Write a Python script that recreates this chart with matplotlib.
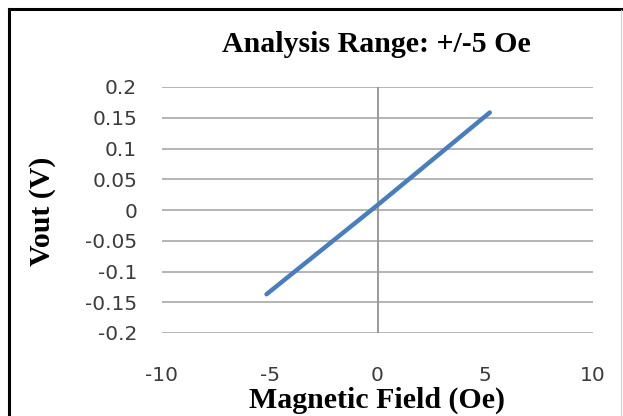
import matplotlib
matplotlib.use("Agg")
import matplotlib.pyplot as plt
from matplotlib.lines import Line2D

# Data
field_oe = [-5.15, 0.0, 5.21]
vout_v = [-0.137, 0.008, 0.1585]
x_ticks = [-10, -5, 0, 5, 10]
x_tick_labels = ["-10", "-5", "0", "5", "10"]
y_ticks = [-0.2, -0.15, -0.1, -0.05, 0, 0.05, 0.1, 0.15, 0.2]
y_tick_labels = ["-0.2", "-0.15", "-0.1", "-0.05", "0", "0.05", "0.1", "0.15", "0.2"]
title = "Analysis Range: +/-5 Oe"
x_label = "Magnetic Field (Oe)"
y_label = "Vout (V)"

W, H = 623, 416
fig = plt.figure(figsize=(W / 100, H / 100), dpi=100)
ax = fig.add_axes([162 / W, 1 - 333 / H, (593 - 162) / W, (333 - 87) / H])

ax.set_xlim(-10, 10)
ax.set_ylim(-0.2, 0.2)
for s in ax.spines.values():
    s.set_visible(False)

for yv in y_ticks:
    ax.axhline(yv, color="#b4b4b4", lw=1.4, zorder=1)
ax.axvline(0, color="#9a9a9a", lw=1.4, zorder=1)

ax.plot(field_oe, vout_v, color="#4a7ebb", lw=3.2, solid_capstyle="round", zorder=3)

tick_font = dict(family="DejaVu Sans", size=14.5, color="#3c3c3c")
ax.set_xticks(x_ticks)
ax.set_xticklabels(x_tick_labels, **tick_font)
ax.set_yticks(y_ticks)
ax.set_yticklabels(y_tick_labels, **tick_font)
ax.tick_params(axis="both", length=0)
ax.tick_params(axis="y", pad=18)
ax.tick_params(axis="x", pad=24)

serif = ["Liberation Serif", "DejaVu Serif"]
fig.text(376 / W, 1 - 52.5 / H, title, ha="center", va="baseline",
         family=serif, weight="bold", size=21.5)
fig.text(377 / W, 1 - 408 / H, x_label, ha="center", va="baseline",
         family=serif, weight="bold", size=21.5)
fig.text(42 / W, 1 - 211 / H, y_label, ha="center", va="center", rotation=90,
         family=serif, weight="bold", size=21.5)

# Chart border
fig.add_artist(Line2D([8.5 / W, 1.0], [1 - 8.5 / H, 1 - 8.5 / H], color="black", lw=2.2,
                      transform=fig.transFigure))
fig.add_artist(Line2D([8.5 / W, 8.5 / W], [0.0, 1 - 8.5 / H], color="black", lw=2.2,
                      transform=fig.transFigure))
fig.add_artist(Line2D([621 / W, 621 / W], [0.0, 1 - 10 / H], color="#d0d0d0", lw=0.8,
                      transform=fig.transFigure))

fig.savefig("out.png", dpi=100)
